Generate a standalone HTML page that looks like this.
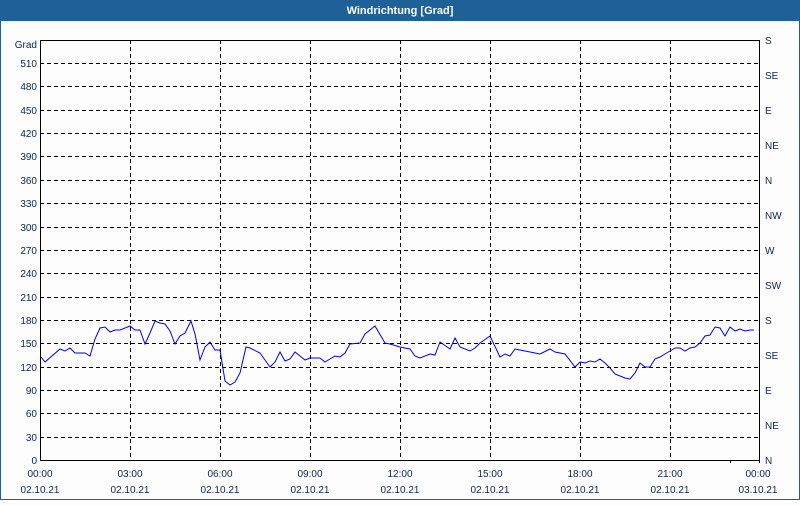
<!DOCTYPE html>
<html><head><meta charset="utf-8"><style>
body{margin:0;width:800px;height:500px;overflow:hidden;background:#fdfdfd;font-family:"Liberation Sans",sans-serif}
</style></head><body>
<svg width="800" height="500" xmlns="http://www.w3.org/2000/svg" font-family="Liberation Sans, sans-serif" font-size="10" fill="#0e2450">
<rect x="0" y="0" width="800" height="500" fill="#fdfdfd"/>
<rect x="0" y="0" width="800" height="20" fill="#1e6198"/>
<text x="400" y="14" fill="#fff" font-weight="bold" font-size="11" text-anchor="middle">Windrichtung [Grad]</text>
<rect x="0.5" y="20.5" width="799" height="479" fill="none" stroke="#1e6198"/>
<g stroke="#000" stroke-dasharray="4,3" stroke-width="1">
<line x1="40" x2="760" y1="63.5" y2="63.5"/><line x1="40" x2="760" y1="86.5" y2="86.5"/><line x1="40" x2="760" y1="110.5" y2="110.5"/><line x1="40" x2="760" y1="133.5" y2="133.5"/><line x1="40" x2="760" y1="156.5" y2="156.5"/><line x1="40" x2="760" y1="180.5" y2="180.5"/><line x1="40" x2="760" y1="203.5" y2="203.5"/><line x1="40" x2="760" y1="227.5" y2="227.5"/><line x1="40" x2="760" y1="250.5" y2="250.5"/><line x1="40" x2="760" y1="273.5" y2="273.5"/><line x1="40" x2="760" y1="297.5" y2="297.5"/><line x1="40" x2="760" y1="320.5" y2="320.5"/><line x1="40" x2="760" y1="343.5" y2="343.5"/><line x1="40" x2="760" y1="367.5" y2="367.5"/><line x1="40" x2="760" y1="390.5" y2="390.5"/><line x1="40" x2="760" y1="413.5" y2="413.5"/><line x1="40" x2="760" y1="437.5" y2="437.5"/>
<line x1="130.5" x2="130.5" y1="40" y2="460"/><line x1="220.5" x2="220.5" y1="40" y2="460"/><line x1="310.5" x2="310.5" y1="40" y2="460"/><line x1="400.5" x2="400.5" y1="40" y2="460"/><line x1="490.5" x2="490.5" y1="40" y2="460"/><line x1="580.5" x2="580.5" y1="40" y2="460"/><line x1="670.5" x2="670.5" y1="40" y2="460"/>
</g>
<rect x="40.5" y="40.5" width="719" height="420" fill="none" stroke="#000"/>
<g stroke="#000"><line x1="730.5" x2="730.5" y1="460" y2="463"/><line x1="759.5" x2="759.5" y1="460" y2="463"/></g>
<polyline fill="none" stroke="#0000ee" stroke-width="1" points="41,357 45,362 60,349 65,351 70,348 75,353 85,353 90,356 95,339 100,328 105,327 110,332 115,330 120,330 130,326 135,330 140,330 145,344 150,333 155,321 160,323 165,324 170,331 175,344 180,336 185,333 191,321 195,334 200,360 205,347 210,342 215,350 220,350 225,381 230,385 235,382 240,373 246,347 250,348 260,353 265,360 270,367 275,362 280,352 285,361 290,359 295,352 300,356 305,360 310,358 320,358 325,362 330,359 335,356 340,357 345,353 350,344 360,343 365,334 375,326 385,343 390,344 400,347 410,349 415,356 420,358 430,354 435,355 440,342 450,349 455,338 460,347 470,351 475,348 480,343 490,336 500,357 505,354 510,356 515,349 525,351 540,354 550,349 555,352 565,354 575,367 580,362 585,363 590,361 595,362 600,359 605,363 610,368 615,374 620,376 625,378 630,379 635,373 640,363 645,367 650,367 655,359 660,357 665,354 670,351 675,348 680,348 685,351 690,348 695,347 700,343 705,336 710,335 715,327 720,328 725,336 730,327 735,331 740,329 745,331 750,330 754,330"/>
<g text-anchor="end">
<text x="37" y="48">Grad</text><text x="37" y="67">510</text><text x="37" y="90">480</text><text x="37" y="114">450</text><text x="37" y="137">420</text><text x="37" y="160">390</text><text x="37" y="184">360</text><text x="37" y="207">330</text><text x="37" y="231">300</text><text x="37" y="254">270</text><text x="37" y="277">240</text><text x="37" y="301">210</text><text x="37" y="324">180</text><text x="37" y="347">150</text><text x="37" y="371">120</text><text x="37" y="394">90</text><text x="37" y="417">60</text><text x="37" y="441">30</text><text x="37" y="464">0</text>
</g>
<g>
<text x="765" y="44">S</text><text x="765" y="79">SE</text><text x="765" y="114">E</text><text x="765" y="149">NE</text><text x="765" y="184">N</text><text x="765" y="219">NW</text><text x="765" y="254">W</text><text x="765" y="289">SW</text><text x="765" y="324">S</text><text x="765" y="359">SE</text><text x="765" y="394">E</text><text x="765" y="429">NE</text><text x="765" y="464">N</text>
</g>
<g text-anchor="middle">
<text x="40" y="477">00:00</text><text x="40" y="493">02.10.21</text>
<text x="130" y="477">03:00</text><text x="130" y="493">02.10.21</text>
<text x="220" y="477">06:00</text><text x="220" y="493">02.10.21</text>
<text x="310" y="477">09:00</text><text x="310" y="493">02.10.21</text>
<text x="400" y="477">12:00</text><text x="400" y="493">02.10.21</text>
<text x="490" y="477">15:00</text><text x="490" y="493">02.10.21</text>
<text x="580" y="477">18:00</text><text x="580" y="493">02.10.21</text>
<text x="670" y="477">21:00</text><text x="670" y="493">02.10.21</text>
<text x="758" y="477">00:00</text><text x="758" y="493">03.10.21</text>
</g>
</svg>
</body></html>
